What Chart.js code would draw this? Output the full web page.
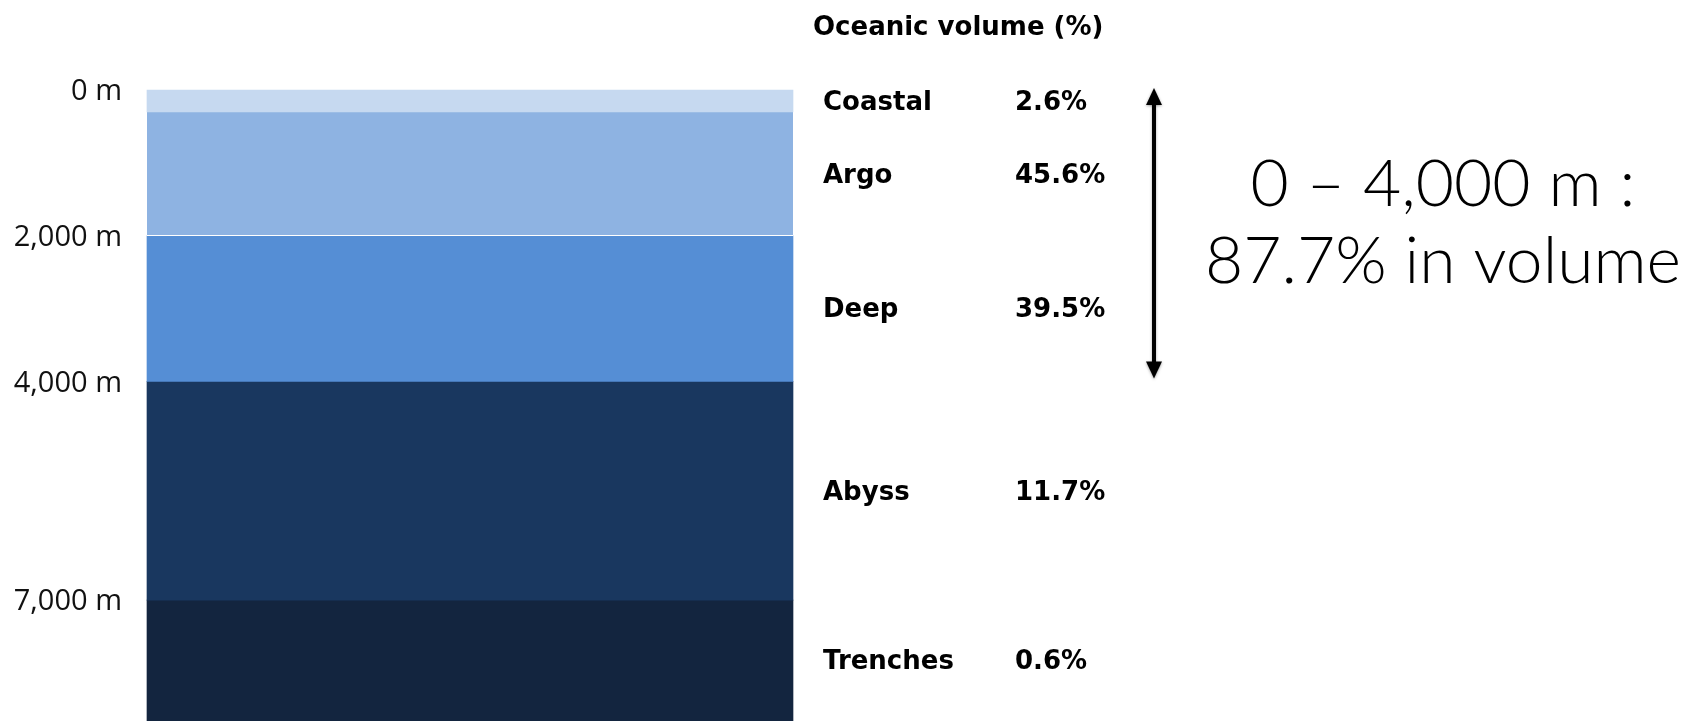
<!DOCTYPE html>
<html>
<head>
  <meta charset="UTF-8">
  <title>Ocean depth layers</title>
  <script src="https://cdn.jsdelivr.net/npm/chart.js@4.4.1/dist/chart.umd.min.js"></script>
  <style>
    * { margin: 0; padding: 0; box-sizing: border-box; }
    html, body { width: 1694px; height: 721px; overflow: hidden; background: #fff; }
    #wrap { position: relative; width: 1694px; height: 721px; }
  </style>
</head>
<body>
  <div id="wrap"><canvas id="depthChart"></canvas></div>
  <script>
    // Depth layers (m) and share of ocean volume (%)
    const layerNames = ['Coastal', 'Argo', 'Deep', 'Abyss', 'Trenches'];
    const layerTop = [0, 300, 2000, 4000, 7000];
    const layerBottom = [300, 2000, 4000, 7000, 11000];
    const volumePct = [2.6, 45.6, 39.5, 11.7, 0.6];
    const layerColors = ['#c6d9f0', '#8eb3e2', '#558ed5', '#19375f', '#13253f'];
    const depthTicks = [0, 2000, 4000, 7000];
    const upperLayers = 3; // Coastal + Argo + Deep = 0–4,000 m

    const upperPct = volumePct.slice(0, upperLayers).reduce((a, b) => a + b, 0);
    const upperDepth = layerBottom[upperLayers - 1];

    const datasets = layerNames.map((name, i) => ({
      label: name,
      data: [[layerTop[i], layerBottom[i]]],
      backgroundColor: layerColors[i],
      borderColor: '#ffffff',
      borderWidth: i === 1 ? { top: 0, left: 0, right: 0, bottom: 1 } : 0,
      borderSkipped: false,
      barPercentage: 1,
      categoryPercentage: 1,
      grouped: false,
      clip: false,
    }));

    // Layer names, percentages, the 0–4,000 m arrow and the summary text
    const annotations = {
      id: 'annotations',
      afterDatasetsDraw(chart) {
        const { ctx, chartArea } = chart;
        const y = chart.scales.y;
        ctx.save();
        ctx.fillStyle = '#000';
        ctx.textBaseline = 'middle';

        ctx.font = 'bold 26px "DejaVu Sans"';
        ctx.textAlign = 'left';
        ctx.fillText('Oceanic volume (%)', 813, 28);

        layerNames.forEach((name, i) => {
          const bar = chart.getDatasetMeta(i).data[0];
          const top = Math.max(Math.min(bar.y, bar.base), chartArea.top);
          const bottom = Math.min(Math.max(bar.y, bar.base), chartArea.bottom);
          const mid = (top + bottom) / 2 + 2;
          ctx.fillText(name, 823, mid);
          ctx.fillText(volumePct[i].toFixed(1) + '%', 1015, mid);
        });

        // double-headed arrow
        const ax = 1154;
        const y0 = y.getPixelForValue(0) - 2;
        const y1 = y.getPixelForValue(upperDepth) - 3;
        ctx.shadowColor = 'rgba(0,0,0,0.35)';
        ctx.shadowBlur = 3;
        ctx.shadowOffsetY = 1;
        ctx.strokeStyle = '#000';
        ctx.lineWidth = 4;
        ctx.beginPath();
        ctx.moveTo(ax, y0 + 12);
        ctx.lineTo(ax, y1 - 12);
        ctx.stroke();
        ctx.beginPath();
        ctx.moveTo(ax, y0);
        ctx.lineTo(ax - 8, y0 + 17);
        ctx.lineTo(ax + 8, y0 + 17);
        ctx.closePath();
        ctx.fill();
        ctx.beginPath();
        ctx.moveTo(ax, y1);
        ctx.lineTo(ax - 8, y1 - 17);
        ctx.lineTo(ax + 8, y1 - 17);
        ctx.closePath();
        ctx.fill();
        ctx.shadowColor = 'transparent';

        ctx.font = '300 66px Lato';
        ctx.textAlign = 'center';
        ctx.textBaseline = 'alphabetic';
        ctx.fillText('0 – ' + upperDepth.toLocaleString('en-US') + ' m :', 1443, 206);
        ctx.fillText(upperPct.toFixed(1) + '% in volume', 1443, 283);
        ctx.restore();
      }
    };

    new Chart(document.getElementById('depthChart'), {
      type: 'bar',
      data: { labels: ['Ocean'], datasets },
      options: {
        responsive: true,
        maintainAspectRatio: false,
        animation: false,
        layout: { padding: { top: 90, right: 901, bottom: 0, left: 0 } },
        plugins: { legend: { display: false }, tooltip: { enabled: false } },
        scales: {
          x: { display: false, stacked: false },
          y: {
            reverse: true,
            min: 0,
            max: 8660,
            border: { display: false },
            grid: { display: false, drawTicks: false },
            afterFit(scale) {
              scale.width = 147;
              scale.paddingTop = 0;
              scale.paddingBottom = 0;
            },
            afterBuildTicks(scale) { scale.ticks = depthTicks.map(v => ({ value: v })); },
            ticks: {
              padding: 25,
              labelOffset: 2,
              color: '#111',
              font: { family: 'Open Sans', size: 29 },
              callback: v => v.toLocaleString('en-US') + ' m',
            },
          },
        },
      },
      plugins: [annotations],
    });
  </script>
</body>
</html>
